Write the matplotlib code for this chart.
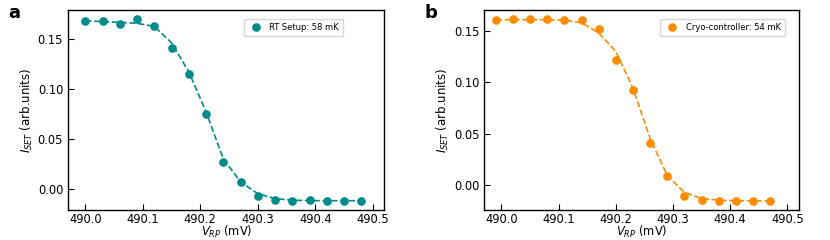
import numpy as np
import matplotlib
matplotlib.use('Agg')
import matplotlib.pyplot as plt

# panel a: RT setup
v_rt = [490.00, 490.03, 490.06, 490.09, 490.12, 490.15, 490.18, 490.21, 490.24,
        490.27, 490.30, 490.33, 490.36, 490.39, 490.42, 490.45, 490.48]
i_rt = [0.1680, 0.1677, 0.1650, 0.1697, 0.1630, 0.1407, 0.1147, 0.0747, 0.0267,
        0.0067, -0.0067, -0.0107, -0.0120, -0.0110, -0.0120, -0.0117, -0.0117]
fit_rt = [0.1680, 0.1673, 0.1665, 0.1655, 0.1625, 0.1460, 0.1170, 0.0770, 0.0300,
          0.0070, -0.0047, -0.0097, -0.0113, -0.0117, -0.0118, -0.0118, -0.0118]

# panel b: cryo-controller
v_cc = [489.99, 490.02, 490.05, 490.08, 490.11, 490.14, 490.17, 490.20, 490.23,
        490.26, 490.29, 490.32, 490.35, 490.38, 490.41, 490.44, 490.47]
i_cc = [0.1608, 0.1612, 0.1615, 0.1615, 0.1605, 0.1605, 0.1520, 0.1218, 0.0927,
        0.0406, 0.0082, -0.0108, -0.0144, -0.0154, -0.0157, -0.0157, -0.0157]
fit_cc = [0.1608, 0.1610, 0.1610, 0.1610, 0.1605, 0.1580, 0.1480, 0.1300, 0.0940,
          0.0450, 0.0090, -0.0075, -0.0134, -0.0150, -0.0155, -0.0157, -0.0157]

fig = plt.figure(figsize=(8.3, 2.4), dpi=100)
ax_a = fig.add_axes([0.082, 0.125, 0.381, 0.833])
ax_b = fig.add_axes([0.5835, 0.125, 0.379, 0.833])

paineis = [
    (ax_a, v_rt, i_rt, fit_rt, 'darkcyan', 'RT Setup: 58 mK', 0.870),
    (ax_b, v_cc, i_cc, fit_cc, 'darkorange', 'Cryo-controller: 54 mK', 0.955),
]

for ax, x, y, fit, cor, rotulo, leg_x in paineis:
    # curva ajustada (tracejada) + pontos medidos
    ax.plot(x, fit, '--', color=cor, lw=1.2)
    ax.plot(x, y, 'o', color=cor, ms=5.2, label=rotulo, ls='none')
    ax.set_xlim(489.97, 490.52)
    ax.set_xticks([490.0, 490.1, 490.2, 490.3, 490.4, 490.5])
    ax.set_yticks([0.0, 0.05, 0.10, 0.15])
    ax.tick_params(direction='in', labelsize=8.3, length=4)
    ax.tick_params(axis='x', pad=2.5)
    ax.set_xlabel('$V_{RP}$ (mV)', fontsize=8.3, labelpad=-1.5)
    ax.set_ylabel('$I_{SET}$ (arb.units)', fontsize=8.5, labelpad=2)
    ax.legend(loc='upper right', bbox_to_anchor=(leg_x, 0.955), borderaxespad=0,
              fontsize=6, handletextpad=0.6, borderpad=0.5)
    for s in ax.spines.values():
        s.set_linewidth(1.0)

fig.text(0.0096, 0.925, 'a', fontsize=13, fontweight='bold', va='baseline')
fig.text(0.512, 0.925, 'b', fontsize=13, fontweight='bold', va='baseline')

fig.savefig('out.png', dpi=100)
